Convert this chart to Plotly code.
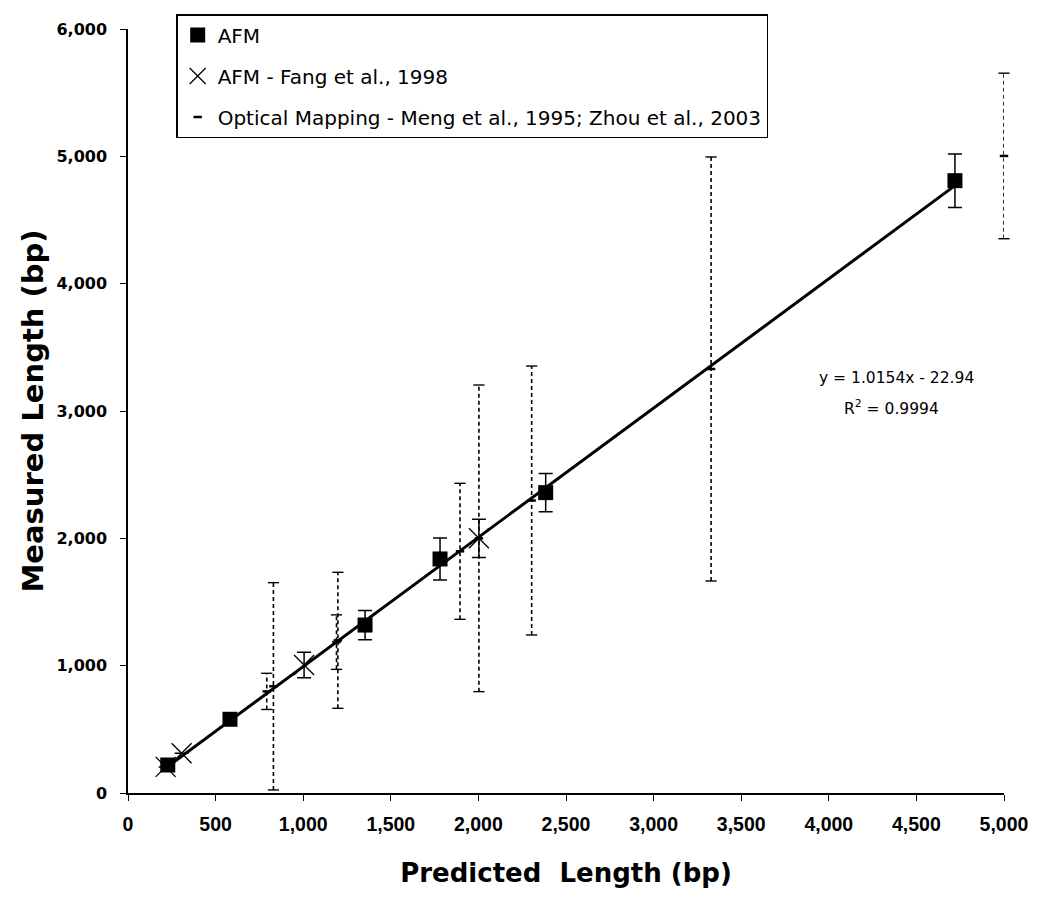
import plotly.graph_objects as go

# AFM (this work)
afm_x = [227, 582, 1353, 1781, 2384, 4720]
afm_y = [220, 579, 1319, 1838, 2359, 4809]
afm_err = [30, 30, 115, 165, 150, 210]

# AFM - Fang et al., 1998
fang_x = [215, 306, 1005, 2003]
fang_y = [205, 312, 1005, 2000]
fang_err = [0, 0, 100, 150]

# Optical Mapping - Meng et al., 1995; Zhou et al., 2003
opt_x = [792, 830, 1190, 1198, 1895, 2003, 2304, 3328, 5000]
opt_y = [798, 838, 1185, 1199, 1898, 2000, 2297, 3330, 5003]
opt_err = [142, 814, 214, 534, 534, 1204, 1056, 1665, 650]

# Linear fit of AFM data
slope, intercept = 1.0154, -22.94
fit_line1 = "y = 1.0154x - 22.94"
fit_line2 = "R<sup>2</sup> = 0.9994"

x_ticks = [0, 500, 1000, 1500, 2000, 2500, 3000, 3500, 4000, 4500, 5000]
y_ticks = [0, 1000, 2000, 3000, 4000, 5000, 6000]

fig = go.Figure()

# dashed error bars for optical mapping
ex, ey, cx, cy = [], [], [], []
for x, y, e in zip(opt_x, opt_y, opt_err):
    ex += [x, x, None]
    ey += [y - e, y + e, None]
    cx += [x, x]
    cy += [y - e, y + e]
fig.add_trace(go.Scatter(x=ex, y=ey, mode="lines", showlegend=False,
                         line=dict(color="black", width=1.6, dash="4px,3px"),
                         cliponaxis=False, hoverinfo="skip"))
fig.add_trace(go.Scatter(x=cx, y=cy, mode="markers", showlegend=False,
                         marker=dict(symbol="line-ew", size=8, color="black",
                                     line=dict(color="black", width=1.4)),
                         cliponaxis=False, hoverinfo="skip"))

# trend line
fx = [min(afm_x), max(afm_x)]
fy = [slope * v + intercept for v in fx]
fig.add_trace(go.Scatter(x=fx, y=fy, mode="lines", showlegend=False,
                         line=dict(color="black", width=3), hoverinfo="skip"))

fig.add_trace(go.Scatter(
    x=afm_x, y=afm_y, mode="markers", name="AFM", legendgroup="a",
    marker=dict(symbol="square", size=15, color="black"),
    error_y=dict(type="data", array=afm_err, color="black", thickness=1.5, width=7),
    cliponaxis=False))

fig.add_trace(go.Scatter(
    x=fang_x, y=fang_y, mode="markers", name="AFM - Fang et al., 1998", legendgroup="b",
    marker=dict(symbol="x-thin", size=20, color="black", line=dict(color="black", width=1.3)),
    error_y=dict(type="data", array=fang_err, color="black", thickness=1.5, width=7),
    cliponaxis=False))

fig.add_trace(go.Scatter(
    x=opt_x, y=opt_y, mode="markers",
    name="Optical Mapping - Meng et al., 1995; Zhou et al., 2003", legendgroup="c",
    marker=dict(symbol="line-ew", size=6, color="black", line=dict(color="black", width=2.5)),
    cliponaxis=False))

fig.add_annotation(x=0.877, y=0.543, xref="paper", yref="paper", text=fit_line1,
                   xanchor="center", yanchor="middle", showarrow=False,
                   font=dict(family="DejaVu Sans", size=15.5, color="black"))
fig.add_annotation(x=0.872, y=0.505, xref="paper", yref="paper", text=fit_line2,
                   xanchor="center", yanchor="middle", showarrow=False,
                   font=dict(family="DejaVu Sans", size=15.5, color="black"))

fig.update_layout(
    width=1050, height=899,
    margin=dict(l=120, r=54, t=21, b=114, autoexpand=False),
    paper_bgcolor="white", plot_bgcolor="white",
    font=dict(family="DejaVu Sans", color="black"),
    showlegend=True,
    legend=dict(x=0.055, y=1.0196, xanchor="left", yanchor="top",
                bordercolor="black", borderwidth=1.5, bgcolor="white",
                font=dict(size=20, color="black", family="DejaVu Sans"), tracegroupgap=12,
                traceorder="grouped", itemwidth=30),
    xaxis=dict(range=[0, 5000], tickvals=x_ticks, tickformat=",",
               showgrid=False, zeroline=False, showline=True, linecolor="black",
               linewidth=1.5, ticks="outside", ticklen=6, tickcolor="black",
               ticklabelstandoff=7, automargin=False,
               tickfont=dict(size=19.5, family="Liberation Sans", weight="bold"),
               title=dict(text="Predicted  Length (bp)", standoff=30,
                          font=dict(size=26, family="DejaVu Sans", weight="bold"))),
    yaxis=dict(range=[0, 6000], tickvals=y_ticks, tickformat=",",
               showgrid=False, zeroline=False, showline=True, linecolor="black",
               linewidth=1.5, ticks="outside", ticklen=6, tickcolor="black",
               ticklabelstandoff=10, automargin=False,
               tickfont=dict(size=16, family="DejaVu Sans", weight="bold"),
               title=dict(text="Measured Length (bp)", standoff=4,
                          font=dict(size=29, family="DejaVu Sans", weight="bold"))),
)

fig.write_html("out.html")
